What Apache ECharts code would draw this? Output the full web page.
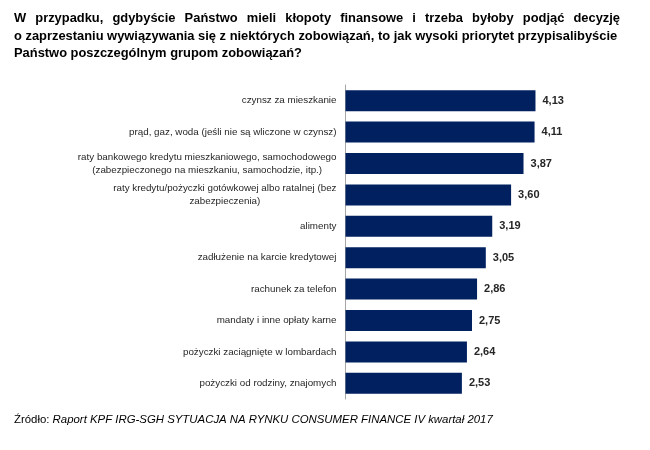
<!DOCTYPE html>
<html><head><meta charset="utf-8">
<script src="https://cdn.jsdelivr.net/npm/echarts@6/dist/echarts.min.js"></script>
<style>html,body{margin:0;padding:0;background:#fff}#c{width:650px;height:450px}</style>
</head><body><div id="c"></div>
<script>
const categories = [
  ["czynsz za mieszkanie"],
  ["prąd, gaz, woda (jeśli nie są wliczone w czynsz)"],
  ["raty bankowego kredytu mieszkaniowego, samochodowego", "(zabezpieczonego na mieszkaniu, samochodzie, itp.)"],
  ["raty kredytu/pożyczki gotówkowej albo ratalnej (bez", "zabezpieczenia)"],
  ["alimenty"],
  ["zadłużenie na karcie kredytowej"],
  ["rachunek za telefon"],
  ["mandaty i inne opłaty karne"],
  ["pożyczki zaciągnięte w lombardach"],
  ["pożyczki od rodziny, znajomych"]
];
const values = [4.13, 4.11, 3.87, 3.60, 3.19, 3.05, 2.86, 2.75, 2.64, 2.53];
const titleLines = [
  "W przypadku, gdybyście Państwo mieli kłopoty finansowe i trzeba byłoby podjąć decyzję",
  "o zaprzestaniu wywiązywania się z niektórych zobowiązań, to jak wysoki priorytet przypisalibyście",
  "Państwo poszczególnym grupom zobowiązań?"
];
const sourceLabel = "Źródło: ";
const sourceText = "Raport KPF IRG-SGH SYTUACJA NA RYNKU CONSUMER FINANCE IV kwartał 2017";

const FONT = "Liberation Sans";
const cv = document.createElement('canvas').getContext('2d');
function measure(t, size, weight) { cv.font = (weight || 'normal') + ' ' + size + 'px "' + FONT + '"'; return cv.measureText(t).width; }

const tLeft = 14, tRight = 620, tW = tRight - tLeft;
let tSize = 13;
while (measure(titleLines[1], tSize, 'bold') > tW && tSize > 8) tSize -= 0.1;
const titleY = [20, 38, 55];
const graphics = [];
(function () {
  const words = titleLines[0].split(' ');
  const widths = words.map(w => measure(w, tSize, 'bold'));
  const total = widths.reduce((a, b) => a + b, 0);
  const gap = (tW - total) / (words.length - 1);
  let x = tLeft;
  words.forEach((w, i) => {
    graphics.push({ type: 'text', left: x, top: titleY[0] - tSize * 0.6, style: { text: w, font: 'bold ' + tSize + 'px "' + FONT + '"', fill: '#000' } });
    x += widths[i] + gap;
  });
})();
for (let i = 1; i < 3; i++) {
  graphics.push({ type: 'text', left: tLeft, top: titleY[i] - tSize * 0.6, style: { text: titleLines[i], font: 'bold ' + tSize + 'px "' + FONT + '"', fill: '#000' } });
}
graphics.push({
  type: 'text', left: 14, top: 414,
  style: {
    text: '{n|' + sourceLabel + '}{i|' + sourceText + '}',
    rich: {
      n: { fontFamily: FONT, fontSize: 11.4, fill: '#000' },
      i: { fontFamily: FONT, fontSize: 11.4, fontStyle: 'italic', fill: '#000' }
    }
  }
});

const chart = echarts.init(document.getElementById('c'), null, { renderer: 'canvas' });
chart.setOption({
  animation: false,
  backgroundColor: '#fff',
  graphic: graphics,
  grid: { left: 345.5, right: 74.5, top: 85, bottom: 51, containLabel: false },
  xAxis: { type: 'value', min: 0, max: 5, show: false, splitLine: { show: false } },
  yAxis: {
    type: 'category', inverse: true,
    data: categories.map(c => c.map(l => '{c|' + l + '}').join('\n')),
    axisLine: { show: true, lineStyle: { color: '#A6A6A6', width: 1 } },
    axisTick: { show: false },
    axisLabel: {
      margin: 9, align: 'right', color: '#262626', fontFamily: FONT, fontSize: 9.8, lineHeight: 13,
      rich: { c: { align: 'center', fontFamily: FONT, fontSize: 9.8, lineHeight: 13, color: '#262626' } }
    }
  },
  series: [{
    type: 'bar', data: values, barWidth: 21,
    itemStyle: { color: '#002060' },
    label: {
      show: true, position: 'right', distance: 7,
      fontFamily: FONT, fontSize: 11, fontWeight: 'bold', color: '#262626',
      formatter: p => p.value.toFixed(2).replace('.', ',')
    }
  }]
});
</script></body></html>
